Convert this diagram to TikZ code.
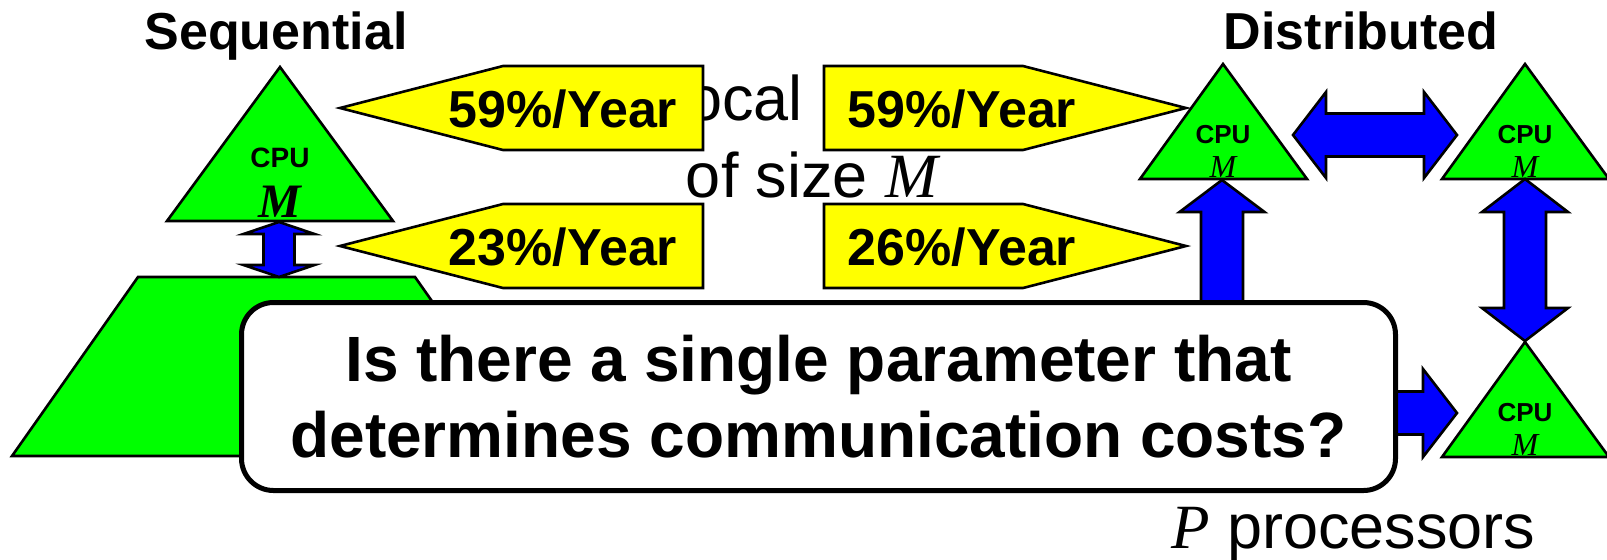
\documentclass[tikz,border=0pt]{standalone}
\usepackage{fontspec}
\setmainfont{Liberation Sans}
\newfontfamily\timesfont{Liberation Serif}
\usepackage{tikz}
\usetikzlibrary{calc}
\definecolor{cpugreen}{RGB}{0,255,0}
\definecolor{rateyellow}{RGB}{255,255,0}
\definecolor{linkblue}{RGB}{0,0,255}
\def\mM{{\timesfont\itshape M}}
\def\bmM{{\timesfont\bfseries\itshape M}}
\def\pP{{\timesfont\itshape P}}

% vertical double block arrow: top tip, bottom tip, shaft half, head half, head length
\newcommand{\vdouble}[5]{%
  \draw[link] (#1) -- ++(#4,#5) -- ++({#3-#4},0) -- ($(#2)+(#3,-#5)$) -- ++({#4-#3},0) -- (#2)
    -- ++(-#4,-#5) -- ++({#4-#3},0) -- ($(#1)+(-#3,#5)$) -- ++({#3-#4},0) -- cycle;}
% horizontal double block arrow: left tip, right tip, shaft half, head half, head length
\newcommand{\hdouble}[5]{%
  \draw[link] (#1) -- ++(#5,-#4) -- ++(0,{#4-#3}) -- ($(#2)+(-#5,-#3)$) -- ++(0,{#3-#4}) -- (#2)
    -- ++(-#5,#4) -- ++(0,{#3-#4}) -- ($(#1)+(#5,#3)$) -- ++(0,{#4-#3}) -- cycle;}

\tikzset{
  cpu/.style={draw,fill=cpugreen,line width=1.3pt,line join=miter},
  rate/.style={draw,fill=rateyellow,line width=1.3pt},
  link/.style={draw,fill=linkblue,line width=1.3pt},
  ratetext/.style={anchor=base,inner sep=0pt,font=\fontsize{26}{30}\selectfont\bfseries},
  headtext/.style={anchor=base,inner sep=0pt,font=\fontsize{26}{30}\selectfont\bfseries},
  cpubig/.style={anchor=base,inner sep=0pt,font=\fontsize{14}{16}\selectfont\bfseries},
  cpusmall/.style={anchor=base,inner sep=0pt,font=\fontsize{13}{15}\selectfont\bfseries},
  plain/.style={inner sep=0pt,font=\fontsize{31.5}{36}\selectfont},
  question/.style={draw,fill=white,line width=2.5pt,rounded corners=16pt,
    minimum width=577pt,minimum height=94pt,align=center,
    font=\fontsize{32}{38}\selectfont\bfseries}
}

\begin{document}
\begin{tikzpicture}[x=0.5pt,y=-0.5pt]
\useasboundingbox (0,0) rectangle (1607,559);

% local memory label, partly covered
\node[plain,anchor=base east] (local) at (803,120) {Local};
\node[plain,anchor=base] (ofsize) at (812,197) {of size \mM};

% growth rates
\foreach \y/\lr/\rr in {0/59/59,138/23/26} {
  \draw[rate] (340,108+\y) -- (503,66+\y) -- (703,66+\y) -- (703,150+\y) -- (503,150+\y) -- cycle;
  \draw[rate] (824,66+\y) -- (1023,66+\y) -- (1186,108+\y) -- (1023,150+\y) -- (824,150+\y) -- cycle;
  \node[ratetext] (lrate\y) at (563,127+\y) {\lr\%/Year};
  \node[ratetext] (rrate\y) at (962,127+\y) {\rr\%/Year};
}

% sequential
\draw[cpu] (280,67) -- (393,221) -- (167,221) -- cycle;
\draw[cpu] (138,277) -- (415,277) -- (541,456) -- (12,456) -- cycle;
\node[cpubig] (seqcpu) at (280,167) {CPU};
\node[anchor=base,inner sep=0pt,font=\fontsize{24}{28}\selectfont] (seqm) at (280,217) {\bmM};
\coordinate (seqbase) at (279,222);
\coordinate (memtop) at (279,277);
\vdouble{seqbase}{memtop}{15.5}{35.5}{12}

% distributed
\foreach \x/\y/\n in {1223/64/a,1525/64/b,1525/342/c} {
  \draw[cpu] (\x,\y) -- (\x+84,\y+115) -- (\x-83,\y+115) -- cycle;
  \node[cpusmall] (cpu\n) at (\x,\y+79) {CPU};
  \node[anchor=base,inner sep=0pt,font=\fontsize{16}{18}\selectfont] (m\n) at (\x,\y+113) {\mM};
}
\coordinate (abase) at (1222,180);
\coordinate (bbase) at (1525,179);
\coordinate (capex) at (1525,341);
\coordinate (aright) at (1293,135);
\coordinate (bleft) at (1457,135);
\coordinate (cleft) at (1457,413);
\coordinate (hidup) at (1222,345);
\coordinate (hidright) at (1300,413);
\hdouble{aright}{bleft}{21.5}{43}{33}
\vdouble{bbase}{capex}{21}{43}{33}
\draw[link] (abase) -- ++(42.5,32) -- ++(-21.5,0) -- ($(hidup)+(21,0)$) -- ($(hidup)+(-21,0)$)
  -- ($(abase)+(-21,32)$) -- ++(-21.5,0) -- cycle;
\draw[link] (cleft) -- ++(-34,44) -- ++(0,-22.5) -- ($(hidright)+(0,21.5)$) -- ($(hidright)+(0,-21.5)$)
  -- ($(cleft)+(-34,-21.5)$) -- ++(0,-22.5) -- cycle;

% the question
\node[question] (ask) at (818.5,396.5) {Is there a single parameter that\\determines communication costs?};

\node[headtext] (seqhead) at (276,49) {Sequential};
\node[headtext] (disthead) at (1361,49) {Distributed};
\node[plain,anchor=base west] (procs) at (1171,548) {\pP{} processors};
\end{tikzpicture}
\end{document}
